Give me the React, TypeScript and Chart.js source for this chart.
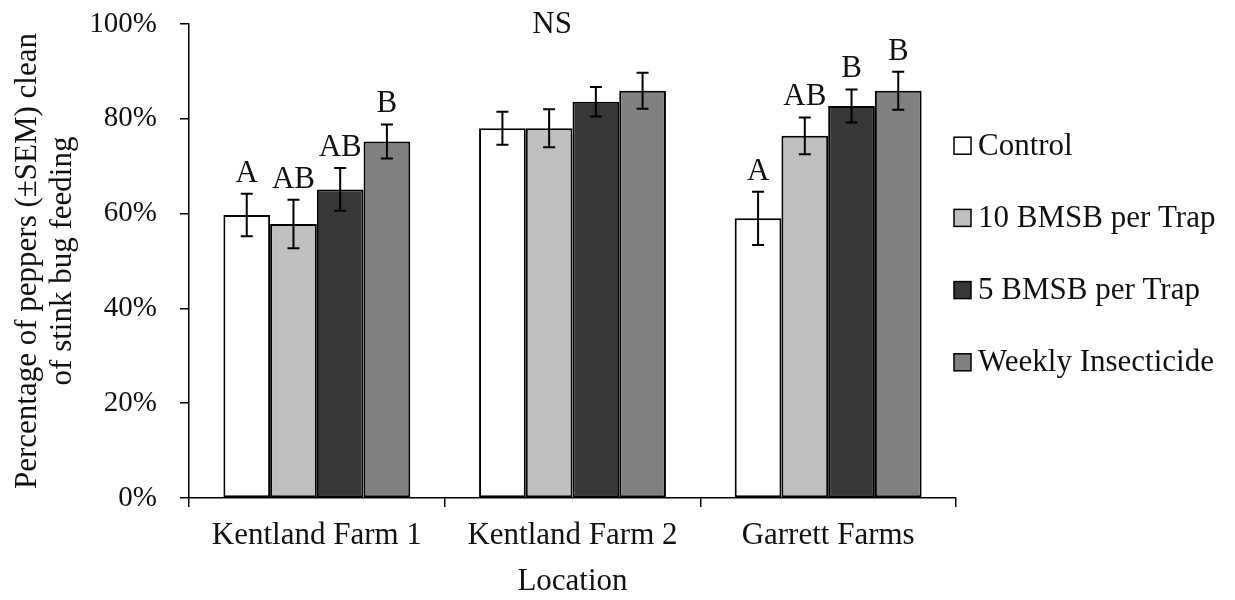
import React, { useEffect, useRef } from 'react';
import { Chart, registerables } from 'chart.js';

Chart.register(...registerables);

const FONT = '"Liberation Serif", "Times New Roman", Times, serif';

// ---- data ----
const categories = ['Kentland Farm 1', 'Kentland Farm 2', 'Garrett Farms'];
const seriesNames = ['Control', '10 BMSB per Trap', '5 BMSB per Trap', 'Weekly Insecticide'];
const seriesColors = ['#FFFFFF', '#BFBFBF', '#393735', '#808080'];

const controlValues = [59.7, 78.0, 59.0];
const bmsb10Values = [57.8, 78.0, 76.4];
const bmsb5Values = [65.1, 83.6, 82.7];
const weeklyValues = [75.2, 85.9, 85.9];

const controlErr = [4.5, 3.5, 5.6];
const bmsb10Err = [5.1, 4.0, 3.9];
const bmsb5Err = [4.5, 3.1, 3.5];
const weeklyErr = [3.6, 3.8, 4.0];

const controlLetters = ['A', '', 'A'];
const bmsb10Letters = ['AB', '', 'AB'];
const bmsb5Letters = ['AB', '', 'B'];
const weeklyLetters = ['B', '', 'B'];

const nsLabel = 'NS';
const nsCategory = 1;
const nsSeries = 1;

const yTickValues = [0, 20, 40, 60, 80, 100];
const yTitle = ['Percentage of peppers (\u00B1SEM) clean', 'of stink bug feeding'];
const xTitle = 'Location';

const seriesValues = [controlValues, bmsb10Values, bmsb5Values, weeklyValues];
const seriesErrors = [controlErr, bmsb10Err, bmsb5Err, weeklyErr];
const seriesLetters = [controlLetters, bmsb10Letters, bmsb5Letters, weeklyLetters];

const annotationPlugin = {
  id: 'annotationPlugin',
  afterDatasetsDraw(chart: any) {
    const ctx = chart.ctx;
    const yScale = chart.scales.y;
    ctx.save();
    chart.data.datasets.forEach((ds: any, di: number) => {
      const meta = chart.getDatasetMeta(di);
      meta.data.forEach((bar: any, i: number) => {
        const v = ds.data[i];
        const e = seriesErrors[di][i];
        const x = bar.x;
        const yt = yScale.getPixelForValue(v + e);
        const yb = yScale.getPixelForValue(v - e);
        ctx.strokeStyle = '#000';
        ctx.lineWidth = 2;
        ctx.beginPath();
        ctx.moveTo(x, yt);
        ctx.lineTo(x, yb);
        ctx.moveTo(x - 6, yt);
        ctx.lineTo(x + 6, yt);
        ctx.moveTo(x - 6, yb);
        ctx.lineTo(x + 6, yb);
        ctx.stroke();
        const letter = seriesLetters[di][i];
        if (letter) {
          ctx.fillStyle = '#111';
          ctx.font = `31px ${FONT}`;
          ctx.textAlign = 'center';
          ctx.textBaseline = 'alphabetic';
          ctx.fillText(letter, x, yt - 12);
        }
      });
    });
    // NS label
    const nsBar = chart.getDatasetMeta(nsSeries).data[nsCategory];
    ctx.fillStyle = '#111';
    ctx.font = `31px ${FONT}`;
    ctx.textAlign = 'center';
    ctx.textBaseline = 'alphabetic';
    ctx.fillText(nsLabel, nsBar.x + 3, chart.chartArea.top + 9);
    ctx.restore();
  },
  afterDraw(chart: any) {
    const ctx = chart.ctx;
    const area = chart.chartArea;
    const step = 72.2;
    const mid = (area.top + area.bottom) / 2 - 7;
    ctx.save();
    seriesNames.forEach((name, i) => {
      const cy = mid + (i - 1.5) * step;
      const bx = area.right - 2;
      ctx.fillStyle = seriesColors[i];
      ctx.fillRect(bx, cy - 8.5, 17, 17);
      ctx.strokeStyle = '#000';
      ctx.lineWidth = 1.5;
      ctx.strokeRect(bx, cy - 8.5, 17, 17);
      ctx.fillStyle = '#111';
      ctx.font = `31px ${FONT}`;
      ctx.textAlign = 'left';
      ctx.textBaseline = 'middle';
      ctx.fillText(name, area.right + 22, cy + 1);
    });
    ctx.restore();
  },
};

export default function App() {
  const canvasRef = useRef<HTMLCanvasElement | null>(null);

  useEffect(() => {
    if (!canvasRef.current) return;
    const chart = new Chart(canvasRef.current, {
      type: 'bar',
      data: {
        labels: categories,
        datasets: seriesNames.map((name, i) => ({
          label: name,
          data: seriesValues[i],
          backgroundColor: seriesColors[i],
          borderColor: '#000',
          borderWidth: 2,
          borderSkipped: false,
          barPercentage: 1,
          categoryPercentage: 0.731,
        })),
      },
      options: {
        animation: false,
        responsive: true,
        maintainAspectRatio: false,
        layout: { padding: { top: 24, right: 279, bottom: 0, left: 0 } },
        plugins: {
          legend: { display: false },
          tooltip: { enabled: false },
          title: { display: false },
        },
        scales: {
          x: {
            grid: {
              display: true,
              drawOnChartArea: false,
              drawTicks: true,
              tickLength: 9,
              color: '#000',
              lineWidth: 1.5,
            },
            border: { display: true, color: '#000', width: 1.5 },
            ticks: {
              color: '#111',
              font: { family: FONT, size: 31, lineHeight: 1.2 },
              padding: 10,
              maxRotation: 0,
              autoSkip: false,
            },
            title: {
              display: true,
              text: xTitle,
              color: '#111',
              font: { family: FONT, size: 31, lineHeight: 1.13 },
              padding: { top: 0, bottom: 0.5 },
            },
            afterFit(scale: any) {
              scale.height = 102;
              scale.paddingLeft = 0;
              scale.paddingRight = 0;
            },
          },
          y: {
            min: 0,
            max: 100,
            afterBuildTicks(scale: any) {
              scale.ticks = yTickValues.map((v) => ({ value: v }));
            },
            grid: {
              display: true,
              drawOnChartArea: false,
              drawTicks: true,
              tickLength: 9,
              color: '#000',
              lineWidth: 1.5,
            },
            border: { display: true, color: '#000', width: 1.5 },
            ticks: {
              color: '#111',
              font: { family: FONT, size: 29 },
              padding: 23,
              callback: (v: any) => `${v}%`,
            },
            title: {
              display: true,
              text: yTitle,
              color: '#111',
              font: { family: FONT, size: 31, lineHeight: 1.13 },
              padding: { top: 10.5, bottom: 0 },
            },
            afterFit(scale: any) {
              scale.width = 189;
              scale.paddingTop = 0;
              scale.paddingBottom = 0;
            },
          },
        },
      },
      plugins: [annotationPlugin],
    });
    return () => chart.destroy();
  }, []);

  return (
    <div style={{ position: 'fixed', left: 0, top: 0, width: 1235, height: 600, background: '#fff' }}>
      <canvas ref={canvasRef} />
    </div>
  );
}
